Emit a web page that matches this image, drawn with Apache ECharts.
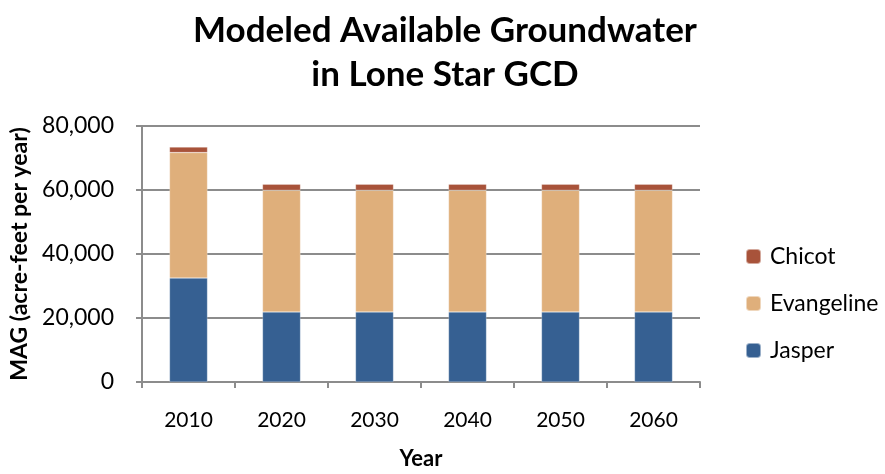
<!DOCTYPE html>
<html><head><meta charset="utf-8">
<script src="https://cdn.jsdelivr.net/npm/echarts@6/dist/echarts.min.js"></script>
<style>html,body{margin:0;padding:0;background:#fff}#c{width:885px;height:474px}</style>
</head><body><div id="c"></div>
<script>
const years = ['2010','2020','2030','2040','2050','2060'];
const jasper = [32500, 21900, 21900, 21900, 21900, 21900];
const evangeline = [39200, 38000, 38000, 38000, 38000, 38000];
const chicot = [1700, 1900, 1900, 1900, 1900, 1900];
const yTicks = [0, 20000, 40000, 60000, 80000];

const FONT = 'Lato, "Open Sans", sans-serif';
const chart = echarts.init(document.getElementById('c'));
const mk = (name, data, color) => ({
  name, type: 'bar', stack: 'total', data, barWidth: 38,
  itemStyle: { color, borderColor: 'rgba(255,255,255,0.5)', borderWidth: 0.5 }
});
chart.setOption({
  animation: false,
  title: {
    text: 'Modeled Available Groundwater\nin Lone Star GCD',
    left: 440, top: 4, textAlign: 'center',
    textStyle: { fontFamily: FONT, fontWeight: 'bold', fontSize: 35, lineHeight: 44, color: '#000' }
  },
  legend: {
    orient: 'vertical', left: 740, top: 240, itemGap: 24,
    itemWidth: 15, itemHeight: 15,
    data: ['Chicot', 'Evangeline', 'Jasper'],
    textStyle: { fontFamily: FONT, fontSize: 23, color: '#000', padding: [0, 0, 0, 4] }
  },
  grid: { left: 142, right: 185, top: 126, bottom: 92, containLabel: false, outerBoundsMode: 'none' },
  xAxis: {
    type: 'category', data: years,
    name: 'Year', nameLocation: 'middle', nameGap: 66,
    nameTextStyle: { fontFamily: FONT, fontWeight: 'bold', fontSize: 22, color: '#000' },
    axisLine: { lineStyle: { color: '#8c8c8c', width: 2 } },
    axisTick: { show: true, length: 6, lineStyle: { color: '#8c8c8c', width: 2 } },
    axisLabel: { fontFamily: FONT, fontSize: 21, color: '#000', margin: 28 }
  },
  yAxis: {
    type: 'value', min: 0, max: 80000, interval: 20000,
    name: 'MAG (acre-feet per year)', nameLocation: 'middle', nameGap: 110,
    nameTextStyle: { fontFamily: FONT, fontWeight: 'bold', fontSize: 23, color: '#000' },
    axisLine: { show: true, lineStyle: { color: '#8c8c8c', width: 2 } },
    axisTick: { show: true, length: 6, lineStyle: { color: '#8c8c8c', width: 2 } },
    splitLine: { lineStyle: { color: '#8c8c8c', width: 2 } },
    axisLabel: {
      fontFamily: FONT, fontSize: 23, color: '#000', margin: 28,
      formatter: v => yTicks.includes(v) ? v.toLocaleString('en-US') : ''
    }
  },
  series: [
    mk('Jasper', jasper, '#366092'),
    mk('Evangeline', evangeline, '#dfaf7b'),
    mk('Chicot', chicot, '#a8533a')
  ]
});
</script></body></html>
